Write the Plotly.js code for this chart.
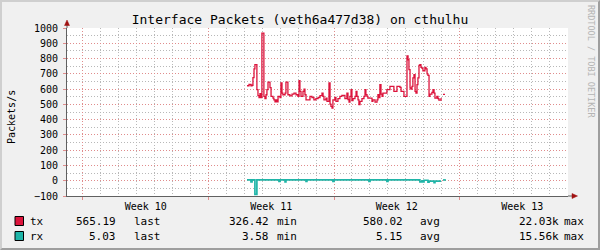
<!DOCTYPE html>
<html>
<head>
<meta charset="utf-8">
<script src="https://cdn.plot.ly/plotly-3.0.1.min.js"></script>
<style>
  html, body { margin: 0; padding: 0; background: #F0F0F0; }
  #wrap { position: relative; width: 600px; height: 250px; }
  #chart { width: 600px; height: 250px; }
  #frame { position: absolute; left: 0; top: 0; width: 600px; height: 250px; box-sizing: border-box;
           border-top: 2px solid #CFCFCF; border-left: 2px solid #CFCFCF;
           border-right: 2px solid #9E9E9E; border-bottom: 2px solid #9E9E9E; pointer-events: none; }
</style>
</head>
<body>
<div id="wrap"><div id="chart"></div><div id="frame"></div></div>
<script>
// ---- data (time in days since start of Week 10) ----
const titleText = 'Interface Packets (veth6a477d38) on cthulhu';
const yTitle = 'Packets/s';
const weekLabels = ['Week 10', 'Week 11', 'Week 12', 'Week 13'];
const weekCenters = [3.5, 10.5, 17.5, 24.5];

const txDays = [9.15,9.26,9.37,9.43,9.48,9.54,9.59,9.65,9.70,9.76,9.82,9.87,9.93,9.98,10.04,10.09,10.15,10.21,10.26,10.32,
  10.37,10.43,10.49,10.54,10.60,10.65,10.71,10.76,10.82,10.88,10.93,10.99,11.04,11.10,11.15,11.27,11.32,11.38,11.43,11.54,
  11.66,11.77,11.88,11.99,12.05,12.10,12.16,12.27,12.33,12.38,12.44,12.55,12.66,12.77,12.88,12.99,13.11,13.22,13.33,13.39,
  13.44,13.55,13.61,13.72,13.78,13.83,13.89,13.94,14.05,14.11,14.22,14.33,14.44,14.56,14.61,14.72,14.78,14.84,14.89,14.95,
  15.00,15.06,15.17,15.23,15.28,15.34,15.39,15.45,15.56,15.67,15.73,15.78,15.84,15.89,16.01,16.12,16.17,16.29,16.40,16.45,
  16.51,16.56,16.62,16.68,16.73,16.84,16.95,17.07,17.12,17.29,17.34,17.46,17.51,17.68,17.74,17.85,17.90,18.01,18.07,18.13,
  18.18,18.24,18.29,18.35,18.40,18.46,18.52,18.57,18.63,18.68,18.74,18.79,18.85,18.91,18.96,19.07,19.13,19.19,19.24,19.30,
  19.35,19.46,19.52,19.58,19.63,19.74,19.80,19.85,19.97,20.02,20.08,20.19];
const txValues = [622,630,622,625,675,733,760,760,596,557,545,570,545,967,967,552,537,563,596,646,
  646,609,552,552,541,530,517,530,517,552,552,545,640,574,563,574,646,646,563,556,
  567,574,563,552,655,585,552,585,600,563,530,530,552,545,530,537,545,557,574,552,
  530,541,519,640,502,487,476,530,545,519,537,552,559,559,537,574,532,515,552,596,
  524,537,552,585,552,530,498,519,537,552,596,563,552,541,541,519,530,515,530,563,
  545,629,567,552,574,574,596,596,618,618,585,585,618,611,585,585,552,552,818,792,
  727,607,600,618,673,694,585,574,629,673,755,760,742,735,720,742,733,699,690,552,
  567,578,596,574,541,552,537,528,541,null,565,565];

const rxDays = [9.15,9.31,9.37,9.43,9.59,9.70,10.93,10.99,11.27,11.32,12.44,12.49,13.94,14.00,15.95,16.01,16.95,17.01,
  18.74,18.79,18.91,18.96,19.02,19.24,19.30,19.58,19.63,19.97,20.02,20.08,20.24];
const rxValues = [5,5,-8,5,-90,5,-5,5,-8,5,-5,5,-5,5,-5,5,-5,5,
  5,-8,0,-8,3,-10,-3,-12,-3,-3,null,5,5];

const seriesNames = ['tx', 'rx'];
const seriesColors = ['#DC143C', '#1FB5A8'];
const statLabels = ['last', 'min', 'avg', 'max'];
const txStats = ['565.19', '326.42', '580.02', '22.03k'];
const rxStats = ['5.03', '3.58', '5.15', '15.56k'];
const watermark = 'RRDTOOL / TOBI OETIKER';

// ---- layout helpers (pixel -> paper) ----
const W = 600, H = 250, L = 67, R = 32, T = 28, B = 54;
const pw = W - L - R, ph = H - T - B;
const px = x => (x - L) / pw;
const py = y => (H - B - y) / ph;

const mono = 'DejaVu Sans Mono, monospace';
const gridMajor = '#E08C8C';
const gridMinor = '#B8B8B8';
const dots = '1px,2px';

const traces = [
  { x: txDays, y: txValues, type: 'scatter', mode: 'lines', name: seriesNames[0],
    line: { color: seriesColors[0], width: 1.3, shape: 'hv' }, connectgaps: false },
  { x: rxDays, y: rxValues, type: 'scatter', mode: 'lines', name: seriesNames[1],
    line: { color: seriesColors[1], width: 1.7, shape: 'hv' }, connectgaps: false },
  { x: [], y: [], xaxis: 'x2', yaxis: 'y', type: 'scatter', mode: 'lines', showlegend: false }
];

const xRange = [-0.89, 27.05];
const annotations = [];
const shapes = [];

// y axis title
annotations.push({ xref: 'paper', yref: 'paper', x: px(11), y: py(117), text: yTitle, textangle: -90,
  showarrow: false, font: { family: mono, size: 10, color: '#000' }, xanchor: 'center', yanchor: 'middle' });
// watermark
annotations.push({ xref: 'paper', yref: 'paper', x: px(591), y: py(61), text: watermark, textangle: 90,
  showarrow: false, font: { family: mono, size: 8.5, color: '#B4B4B4' }, xanchor: 'center', yanchor: 'middle' });

// legend rows
const rows = [
  { name: seriesNames[0], color: seriesColors[0], stats: txStats, yc: 221, box: [216.5, 225.5] },
  { name: seriesNames[1], color: seriesColors[1], stats: rxStats, yc: 236, box: [231.5, 240.5] }
];
const valueRight = [117, 270, 404, 560];
const labelLeft = [133, 276, 419, 563];
const lf = { family: mono, size: 11, color: '#000' };
rows.forEach(r => {
  shapes.push({ type: 'rect', xref: 'paper', yref: 'paper', x0: px(15), x1: px(23.5), y0: py(r.box[0]), y1: py(r.box[1]),
    fillcolor: r.color, line: { color: '#000', width: 1 } });
  annotations.push({ xref: 'paper', yref: 'paper', x: px(29), y: py(r.yc), text: r.name, showarrow: false,
    xanchor: 'left', yanchor: 'middle', font: lf, borderpad: 0 });
  r.stats.forEach((v, i) => {
    annotations.push({ xref: 'paper', yref: 'paper', x: px(valueRight[i]), y: py(r.yc), text: v, showarrow: false,
      xanchor: 'right', yanchor: 'middle', font: lf, borderpad: 0 });
    annotations.push({ xref: 'paper', yref: 'paper', x: px(labelLeft[i]), y: py(r.yc), text: statLabels[i], showarrow: false,
      xanchor: 'left', yanchor: 'middle', font: lf, borderpad: 0 });
  });
});

// axis extensions + arrows
const axisCol = '#606060';
const arrowCol = '#A01010';
shapes.push({ type: 'line', xref: 'paper', yref: 'paper', x0: 1, x1: px(572), y0: 0, y1: 0, line: { color: axisCol, width: 1 } });
shapes.push({ type: 'line', xref: 'paper', yref: 'paper', x0: 0, x1: 0, y0: 1, y1: py(25), line: { color: axisCol, width: 1 } });
shapes.push({ type: 'path', xref: 'paper', yref: 'paper',
  path: `M ${px(572)},${py(193.5)} L ${px(577.5)},${py(196)} L ${px(572)},${py(198.5)} Z`,
  fillcolor: arrowCol, line: { color: arrowCol, width: 0.5 } });
shapes.push({ type: 'path', xref: 'paper', yref: 'paper',
  path: `M ${px(64.5)},${py(25.5)} L ${px(67)},${py(20)} L ${px(69.5)},${py(25.5)} Z`,
  fillcolor: arrowCol, line: { color: arrowCol, width: 0.5 } });

const layout = {
  width: W, height: H, autosize: false,
  margin: { l: L, r: R, t: T, b: B, pad: 0 },
  paper_bgcolor: '#F0F0F0', plot_bgcolor: '#FFFFFF',
  showlegend: false,
  title: { text: titleText, x: 0.5, xref: 'container', xanchor: 'center', y: 1 - 19 / H, yref: 'container', yanchor: 'middle',
    font: { family: mono, size: 13, color: '#000' } },
  xaxis: {
    range: xRange, tick0: 0, dtick: 7, showticklabels: false,
    showgrid: true, gridcolor: gridMajor, griddash: dots, gridwidth: 1,
    ticks: 'outside', ticklen: 3, tickcolor: gridMajor, tickwidth: 1,
    minor: { tick0: 0, dtick: 1, showgrid: true, gridcolor: gridMinor, griddash: dots, gridwidth: 1, ticks: '' },
    showline: true, linecolor: axisCol, linewidth: 1, zeroline: false, fixedrange: true
  },
  xaxis2: {
    overlaying: 'x', anchor: 'y', side: 'bottom', range: xRange,
    tickmode: 'array', tickvals: weekCenters, ticktext: weekLabels,
    showgrid: false, ticks: '', showline: false, zeroline: false,
    tickfont: { family: mono, size: 10, color: '#000' }, ticklabelstandoff: 3
  },
  yaxis: {
    range: [-100, 1000], tick0: 0, dtick: 100,
    showgrid: true, gridcolor: gridMajor, griddash: dots, gridwidth: 1,
    minor: { dtick: 50, tick0: 0, showgrid: true, gridcolor: gridMinor, griddash: dots, gridwidth: 1, ticks: '' },
    ticks: 'outside', ticklen: 3, tickcolor: gridMajor,
    tickfont: { family: mono, size: 10, color: '#000' }, ticklabelstandoff: 3,
    showline: true, linecolor: axisCol, linewidth: 1, zeroline: false, fixedrange: true
  },
  annotations: annotations,
  shapes: shapes
};

Plotly.newPlot('chart', traces, layout, { displayModeBar: false, staticPlot: true });
</script>
</body>
</html>
